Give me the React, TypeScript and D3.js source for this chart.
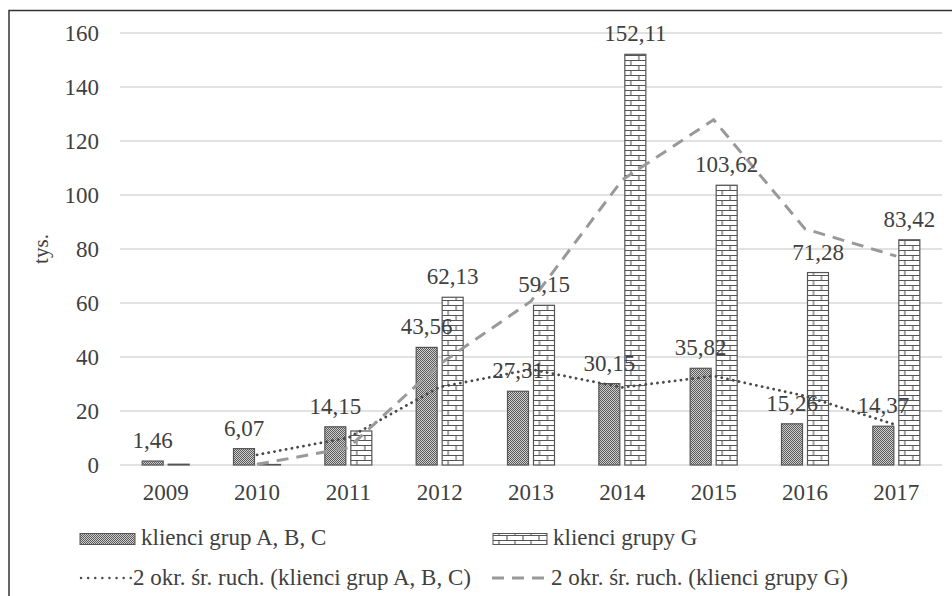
import React from "react";
import * as d3 from "d3";

const years = ["2009", "2010", "2011", "2012", "2013", "2014", "2015", "2016", "2017"];
const seriesABC = [1.46, 6.07, 14.15, 43.56, 27.31, 30.15, 35.82, 15.26, 14.37];
const seriesG = [0.3, 0.2, 12.6, 62.13, 59.15, 152.11, 103.62, 71.28, 83.42];
const labelsABC = ["1,46", "6,07", "14,15", "43,56", "27,31", "30,15", "35,82", "15,26", "14,37"];
const labelsG = ["", "", "", "62,13", "59,15", "152,11", "103,62", "71,28", "83,42"];
const yTicks = [0, 20, 40, 60, 80, 100, 120, 140, 160];
const legendNames = [
  "klienci grup A, B, C",
  "klienci grupy G",
  "2 okr. śr. ruch. (klienci grup A, B, C)",
  "2 okr. śr. ruch. (klienci grupy G)",
];

function movingAvg(v: number[]) {
  const out: { i: number; v: number }[] = [];
  for (let i = 1; i < v.length; i++) out.push({ i, v: (v[i] + v[i - 1]) / 2 });
  return out;
}

const FONT = "'Liberation Serif', 'Times New Roman', serif";
const TXT = "#404040";

function BrickPattern({ id, x0 }: { id: string; x0: number }) {
  return (
    <pattern id={id} x={x0} y={0} width="16" height="10" patternUnits="userSpaceOnUse">
      <rect width="16" height="10" fill="#fff" />
      <path
        d="M0,0.5H16M0,5.5H16M6,0.5V5.5M14,5.5V10.5"
        stroke="#555"
        strokeWidth="1.1"
        fill="none"
      />
    </pattern>
  );
}

export default function App() {
  const W = 952, H = 596;
  const x0 = 120, x1 = 942, yTop = 33, yBot = 465;
  const x = d3.scaleBand<string>().domain(years).range([x0, x1]);
  const y = d3.scaleLinear().domain([0, 160]).range([yBot, yTop]);
  const cx = (i: number) => (x(years[i]) as number) + x.bandwidth() / 2;
  const bw = 21, gap = 5;

  const line = d3
    .line<{ i: number; v: number }>()
    .x((d) => cx(d.i))
    .y((d) => y(d.v));
  const maA = movingAvg(seriesABC);
  const maG = movingAvg(seriesG);

  const fs = 23;
  const ts = { fontFamily: FONT, fontSize: fs, fill: TXT } as React.CSSProperties;

  return (
    <svg
      width={W}
      height={H}
      style={{ position: "absolute", left: 0, top: 0, background: "#fff", fontFamily: FONT }}
    >
      <defs>
        <pattern id="dots" width="2" height="2" patternUnits="userSpaceOnUse">
          <rect width="2" height="2" fill="#cfcfcf" />
          <rect width="1" height="1" fill="#5a5a5a" />
          <rect x="1" y="1" width="1" height="1" fill="#5a5a5a" />
        </pattern>
        {seriesG.map((_, i) => (
          <BrickPattern key={i} id={"brick" + i} x0={cx(i) + gap / 2} />
        ))}
        <BrickPattern id="brickLeg" x0={493} />
      </defs>
      <rect x={9} y={10.5} width={980} height={620} fill="#fff" stroke="#333" strokeWidth={1.5} />

      {yTicks.map((t) => (
        <line key={t} x1={x0} x2={x1} y1={y(t)} y2={y(t)} stroke="#d9d9d9" strokeWidth={1.3} />
      ))}
      {yTicks.map((t) => (
        <text key={t} x={99} y={y(t)} dy="0.35em" textAnchor="end" style={ts}>
          {t}
        </text>
      ))}
      <text
        transform={`translate(48,${(yTop + yBot) / 2}) rotate(-90)`}
        textAnchor="middle"
        style={{ ...ts, fontSize: fs - 2 }}
      >
        tys.
      </text>

      {seriesABC.map((v, i) => (
        <rect
          key={"a" + i}
          x={cx(i) - gap / 2 - bw}
          y={y(v)}
          width={bw}
          height={yBot - y(v)}
          fill="url(#dots)"
          stroke="#555"
          strokeWidth={1.2}
        />
      ))}
      {seriesG.map((v, i) => (
        <rect
          key={"g" + i}
          x={cx(i) + gap / 2}
          y={y(v)}
          width={bw}
          height={yBot - y(v)}
          fill={`url(#brick${i})`}
          stroke="#555"
          strokeWidth={1.2}
        />
      ))}

      <path
        d={line(maA) || ""}
        fill="none"
        stroke="#4a4a4a"
        strokeWidth={2.8}
        strokeDasharray="0.1 5.8"
        strokeLinecap="round"
      />
      <path
        d={line(maG) || ""}
        fill="none"
        stroke="#999"
        strokeWidth={3}
        strokeDasharray="12 8"
      />

      {seriesABC.map((v, i) => (
        <text
          key={"la" + i}
          x={cx(i) - gap / 2 - bw / 2}
          y={y(v) - 13}
          textAnchor="middle"
          style={ts}
        >
          {labelsABC[i]}
        </text>
      ))}
      {seriesG.map((v, i) =>
        labelsG[i] ? (
          <text
            key={"lg" + i}
            x={cx(i) + gap / 2 + bw / 2}
            y={y(v) - 13}
            textAnchor="middle"
            style={ts}
          >
            {labelsG[i]}
          </text>
        ) : null
      )}

      {years.map((yr, i) => (
        <text key={yr} x={cx(i)} y={500} textAnchor="middle" style={ts}>
          {yr}
        </text>
      ))}

      <rect x={80} y={533.5} width={55} height={11} fill="url(#dots)" stroke="#555" strokeWidth={1} />
      <text x={141} y={545} style={ts}>{legendNames[0]}</text>
      <rect x={493} y={533.5} width={54} height={11} fill="url(#brickLeg)" stroke="#555" strokeWidth={1} />
      <text x={553} y={545} style={ts}>{legendNames[1]}</text>
      <line
        x1={81}
        x2={131}
        y1={578}
        y2={578}
        stroke="#4a4a4a"
        strokeWidth={2.4}
        strokeDasharray="0.1 7"
        strokeLinecap="round"
      />
      <text x={133} y={585} style={ts}>{legendNames[2]}</text>
      <line x1={492} x2={548} y1={578} y2={578} stroke="#999" strokeWidth={3} strokeDasharray="12 8" />
      <text x={551} y={585} style={ts}>{legendNames[3]}</text>
    </svg>
  );
}
